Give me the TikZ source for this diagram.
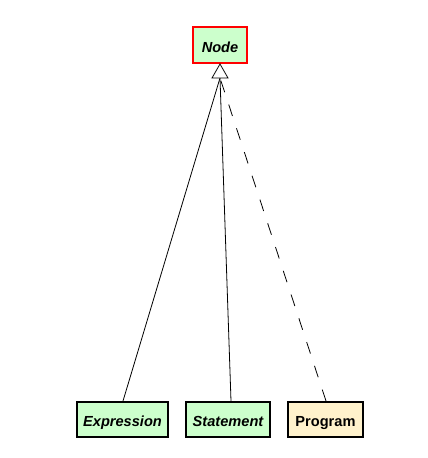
\documentclass[tikz,border=0pt]{standalone}
\usepackage{fontspec}
\setmainfont{Liberation Sans}
\begin{document}
\begin{tikzpicture}[x=1pt,y=-1pt,
  cls/.style={draw=black, line width=2pt, inner sep=0pt, font=\fontsize{14.6}{16}\selectfont\bfseries\itshape, minimum height=35pt, text height=13pt, text depth=0pt},
  abscls/.style={cls, fill=green!20},
  conccls/.style={cls, fill={rgb,255:red,255;green,242;blue,204}, font=\fontsize{14.6}{16}\selectfont\bfseries},
  link/.style={draw=black, line width=0.8pt},
  dlink/.style={link, dash pattern=on 12pt off 13pt}]
\useasboundingbox (0,0) rectangle (428,458);
\definecolor{lgreen}{RGB}{204,255,204}
\node[abscls, fill=lgreen, draw=red, minimum width=54pt, minimum height=36pt, text height=15pt] (node) at (220,45) {Node};
\node[abscls, fill=lgreen, minimum width=91pt] (expr) at (122.5,419.5) {Expression};
\node[abscls, fill=lgreen, minimum width=84pt] (stmt) at (228,419.5) {Statement};
\node[conccls, minimum width=75pt] (prog) at (325.5,419.5) {Program};
\coordinate (tb) at (220,78);
\draw[link] (expr.north -| 123,0) -- (tb);
\draw[link] (stmt.north -| 231,0) -- (tb);
\draw[dlink] (prog.north -| 326,0) -- (tb);
\draw[link, fill=white] (node.south) -- ([xshift=8pt]tb) -- ([xshift=-8pt]tb) -- cycle;
\end{tikzpicture}
\end{document}
